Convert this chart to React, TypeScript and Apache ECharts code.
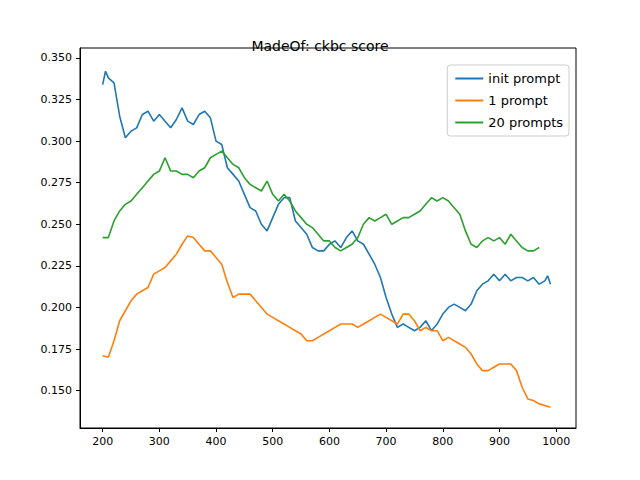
import { useEffect, useRef } from "react";
import * as echarts from "echarts";

const initX = [200, 205, 210, 220, 230, 240, 250, 260, 270, 280, 290, 300, 310, 320, 330, 340, 350, 360, 370, 380, 390, 400, 410, 420, 430, 440, 450, 460, 470, 480, 490, 500, 510, 520, 530, 540, 550, 560, 570, 580, 590, 600, 610, 620, 630, 640, 650, 660, 670, 680, 690, 700, 710, 720, 730, 740, 750, 760, 770, 780, 790, 800, 810, 820, 830, 840, 850, 860, 870, 880, 890, 900, 910, 920, 930, 940, 950, 960, 970, 980, 985, 990];
const initY = [0.334, 0.342, 0.338, 0.335, 0.315, 0.302, 0.306, 0.308, 0.316, 0.318, 0.312, 0.316, 0.312, 0.308, 0.313, 0.32, 0.312, 0.31, 0.316, 0.318, 0.314, 0.3, 0.298, 0.284, 0.28, 0.276, 0.268, 0.26, 0.258, 0.25, 0.246, 0.254, 0.262, 0.266, 0.266, 0.252, 0.248, 0.244, 0.236, 0.234, 0.234, 0.238, 0.24, 0.236, 0.242, 0.246, 0.24, 0.238, 0.232, 0.226, 0.218, 0.206, 0.196, 0.188, 0.19, 0.188, 0.186, 0.188, 0.192, 0.186, 0.19, 0.196, 0.2, 0.202, 0.2, 0.198, 0.202, 0.21, 0.214, 0.216, 0.22, 0.216, 0.22, 0.216, 0.218, 0.218, 0.216, 0.218, 0.214, 0.216, 0.219, 0.214];

const oneX = [200, 210, 220, 230, 240, 250, 260, 270, 280, 290, 300, 310, 320, 330, 340, 350, 360, 370, 380, 390, 400, 410, 420, 430, 440, 450, 460, 470, 480, 490, 500, 510, 520, 530, 540, 550, 560, 570, 580, 590, 600, 610, 620, 630, 640, 650, 660, 670, 680, 690, 700, 710, 720, 730, 740, 750, 760, 770, 780, 790, 800, 810, 820, 830, 840, 850, 860, 870, 880, 890, 900, 910, 920, 930, 940, 950, 960, 970, 980, 990];
const oneY = [0.171, 0.17, 0.18, 0.192, 0.198, 0.204, 0.208, 0.21, 0.212, 0.22, 0.222, 0.224, 0.228, 0.232, 0.238, 0.243, 0.242, 0.238, 0.234, 0.234, 0.23, 0.226, 0.215, 0.206, 0.208, 0.208, 0.208, 0.204, 0.2, 0.196, 0.194, 0.192, 0.19, 0.188, 0.186, 0.184, 0.18, 0.18, 0.182, 0.184, 0.186, 0.188, 0.19, 0.19, 0.19, 0.188, 0.19, 0.192, 0.194, 0.196, 0.194, 0.192, 0.19, 0.196, 0.196, 0.192, 0.186, 0.188, 0.186, 0.186, 0.18, 0.182, 0.18, 0.178, 0.176, 0.172, 0.166, 0.162, 0.162, 0.164, 0.166, 0.166, 0.166, 0.162, 0.152, 0.145, 0.144, 0.142, 0.141, 0.14];

const twentyX = [200, 210, 220, 230, 240, 250, 260, 270, 280, 290, 300, 310, 320, 330, 340, 350, 360, 370, 380, 390, 400, 410, 420, 430, 440, 450, 460, 470, 480, 490, 500, 510, 520, 530, 540, 550, 560, 570, 580, 590, 600, 610, 620, 630, 640, 650, 660, 670, 680, 690, 700, 710, 720, 730, 740, 750, 760, 770, 780, 790, 800, 810, 820, 830, 840, 850, 860, 870, 880, 890, 900, 910, 920, 930, 940, 950, 960, 970];
const twentyY = [0.242, 0.242, 0.252, 0.258, 0.262, 0.264, 0.268, 0.272, 0.276, 0.28, 0.282, 0.29, 0.282, 0.282, 0.28, 0.28, 0.278, 0.282, 0.284, 0.29, 0.292, 0.294, 0.29, 0.286, 0.284, 0.278, 0.274, 0.272, 0.27, 0.276, 0.268, 0.264, 0.268, 0.264, 0.258, 0.254, 0.25, 0.248, 0.244, 0.24, 0.24, 0.236, 0.234, 0.236, 0.238, 0.242, 0.25, 0.254, 0.252, 0.254, 0.256, 0.25, 0.252, 0.254, 0.254, 0.256, 0.258, 0.262, 0.266, 0.264, 0.266, 0.264, 0.26, 0.256, 0.246, 0.238, 0.236, 0.24, 0.242, 0.24, 0.242, 0.238, 0.244, 0.24, 0.236, 0.234, 0.234, 0.236];

const xTicks = [200, 300, 400, 500, 600, 700, 800, 900, 1000];
const yTicks = [0.15, 0.175, 0.2, 0.225, 0.25, 0.275, 0.3, 0.325, 0.35];

const zip = (xs: number[], ys: number[]) => xs.map((x, i) => [x, ys[i]]);

const App = () => {
  const chartRef = useRef<HTMLDivElement>(null);

  useEffect(() => {
    if (!chartRef.current) return;
    const chart = echarts.init(chartRef.current, null, { renderer: "svg" });
    const font = "DejaVu Sans";
    const line = (name: string, data: number[][], color: string) => ({
      name,
      type: "line",
      data,
      showSymbol: false,
      lineStyle: { color, width: 1.6 },
      itemStyle: { color },
    });
    chart.setOption({
      animation: false,
      textStyle: { fontFamily: font },
      title: {
        text: "MadeOf: ckbc score",
        left: "center",
        top: 26,
        textStyle: { fontFamily: font, fontSize: 14, fontWeight: "normal", color: "#000" },
      },
      legend: {
        right: 63,
        top: 57,
        orient: "vertical",
        itemWidth: 28,
        itemHeight: 2,
        itemGap: 9,
        padding: [7, 6, 7, 8],
        borderColor: "#ccc",
        borderWidth: 1,
        borderRadius: 3,
        icon: "rect",
        textStyle: { fontFamily: font, fontSize: 13, color: "#000" },
      },
      grid: { left: 72, right: 56, top: 40, bottom: 44, show: true, borderColor: "#000", borderWidth: 1 },
      xAxis: {
        type: "value",
        min: 160,
        max: 1035,
        splitLine: { show: false },
        axisLine: { onZero: false, lineStyle: { color: "#000" } },
        axisTick: { customValues: xTicks, length: 4, lineStyle: { color: "#000" } },
        axisLabel: {
          customValues: xTicks,
          color: "#000",
          fontSize: 11,
          fontFamily: font,
          formatter: (v: number) => String(v),
        },
      },
      yAxis: {
        type: "value",
        min: 0.1275,
        max: 0.356,
        splitLine: { show: false },
        axisLine: { show: true, onZero: false, lineStyle: { color: "#000" } },
        axisTick: { show: true, customValues: yTicks, length: 4, lineStyle: { color: "#000" } },
        axisLabel: {
          customValues: yTicks,
          color: "#000",
          fontSize: 11,
          fontFamily: font,
          formatter: (v: number) => v.toFixed(3),
        },
      },
      series: [
        line("init prompt", zip(initX, initY), "#1f77b4"),
        line("1 prompt", zip(oneX, oneY), "#ff7f0e"),
        line("20 prompts", zip(twentyX, twentyY), "#2ca02c"),
      ],
    });
    return () => chart.dispose();
  }, []);

  return <div ref={chartRef} style={{ width: 624, height: 464 }} />;
};

export default App;
